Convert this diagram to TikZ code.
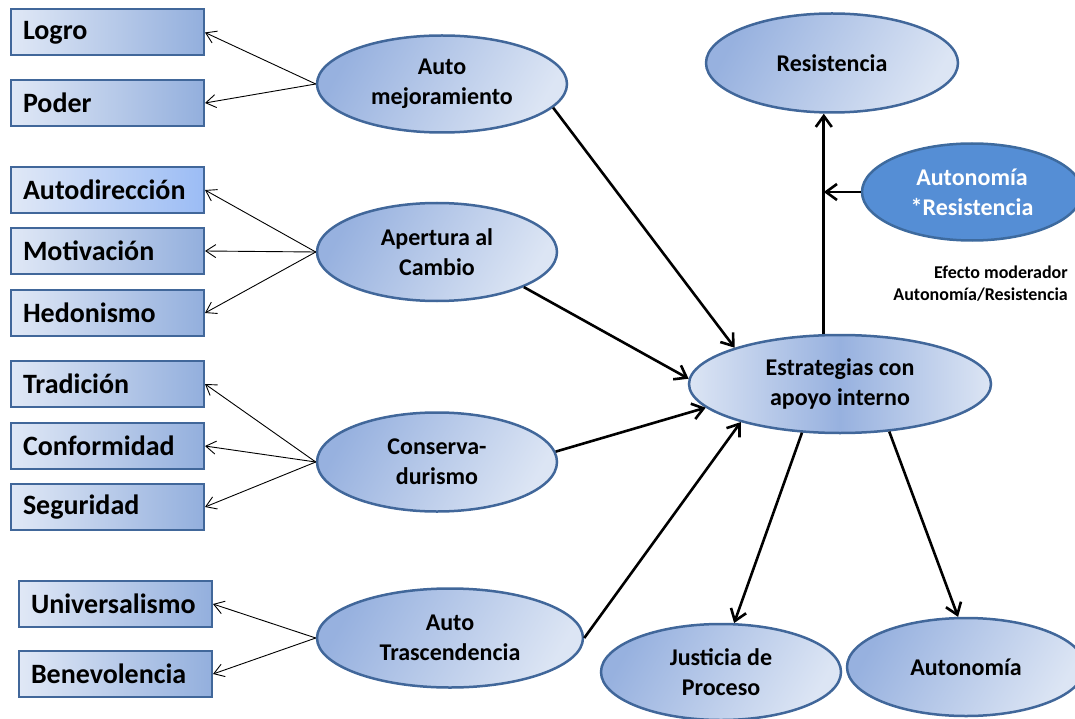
\documentclass[tikz,border=0pt]{standalone}
\usepackage{fontspec}
\setmainfont{Carlito}
\usetikzlibrary{arrows.meta,shapes.geometric}
\definecolor{bord}{HTML}{41679A}
\definecolor{elD}{HTML}{97B1DF}
\definecolor{elL}{HTML}{DCE5F4}
\definecolor{bxL}{HTML}{E0E8F6}
\definecolor{bxR}{HTML}{93AFDD}
\definecolor{bxRb}{HTML}{9BBCF5}
\definecolor{modF}{HTML}{558ED5}
\definecolor{modB}{HTML}{3D6A9E}
\begin{document}
\begin{tikzpicture}[x=1pt,y=-1pt,
  valbox/.style={rectangle, draw=bord, line width=2pt, left color=bxL, right color=bxR,
    minimum width=193pt, minimum height=46pt, inner sep=0pt, text width=169pt, align=left,
    font=\fontsize{28}{34}\selectfont\bfseries, anchor=west},
  latent/.style={ellipse, draw=bord, line width=2.5pt, left color=elD, right color=elL,
    shading angle=60, inner sep=0pt, align=center,
    font=\fontsize{24}{30}\selectfont\bfseries},
  thinarr/.style={line width=0.9pt, -{Straight Barb[length=10pt,width=13pt,line width=0.9pt]}},
  thickarr/.style={line width=2.6pt, -{Straight Barb[length=11pt,width=16pt]}}
]
\clip (0,0) rectangle (1075,719);

% value boxes
\node[valbox] (logro) at (10,32.5) {Logro};
\node[valbox] (poder) at (10,103) {Poder};
\node[valbox, right color=bxRb] (autod) at (10,190) {Autodirección};
\node[valbox] (motiv) at (10,251) {Motivación};
\node[valbox] (hedon) at (10,313) {Hedonismo};
\node[valbox] (trad) at (10,384) {Tradición};
\node[valbox] (conf) at (10,446) {Conformidad};
\node[valbox] (segu) at (10,507) {Seguridad};
\node[valbox] (univ) at (18,604) {Universalismo};
\node[valbox] (bene) at (18,674) {Benevolencia};

% latent ellipses
\node[latent, minimum width=250pt, minimum height=97pt] (am) at (442,84) {Auto\\mejoramiento};
\node[latent, minimum width=240pt, minimum height=98pt] (ap) at (437,252) {Apertura al\\Cambio};
\node[latent, minimum width=240pt, minimum height=99pt] (cv) at (437,462) {Conserva-\\durismo};
\node[latent, minimum width=266pt, minimum height=99pt] (at) at (450,638) {Auto\\Trascendencia};
\node[latent, minimum width=302pt, minimum height=98pt, left color=elL, right color=elL, middle color=elD, shading angle=90] (es) at (840,384) {Estrategias con\\apoyo interno};
\node[latent, minimum width=252pt, minimum height=99pt] (res) at (832,63) {Resistencia};
\node[ellipse, draw=modB, line width=2.5pt, fill=modF, text=white, inner sep=0pt, align=center,
  font=\fontsize{24}{30}\selectfont\bfseries, minimum width=220pt, minimum height=97pt] (mod) at (972,192) {Autonomía\\*Resistencia};
\node[latent, minimum width=240pt, minimum height=96pt] (jp) at (721,672) {Justicia de\\Proceso};
\node[latent, minimum width=238pt, minimum height=98pt] (au) at (966,667) {Autonomía};

\node[align=right, anchor=east, inner sep=0pt, font=\fontsize{18}{22}\selectfont\bfseries] (efm) at (1068,284) {Efecto moderador\\Autonomía/Resistencia};

% thin arrows (indicators)
\draw[thinarr] (am.west) -- (logro.east);
\draw[thinarr] (am.west) -- (poder.east);
\draw[thinarr] (ap.west) -- (autod.east);
\draw[thinarr] (ap.west) -- (motiv.east);
\draw[thinarr] (ap.west) -- (hedon.east);
\draw[thinarr] (cv.west) -- (trad.east);
\draw[thinarr] (cv.west) -- (conf.east);
\draw[thinarr] (cv.west) -- (segu.east);
\draw[thinarr] (at.west) -- (univ.east);
\draw[thinarr] (at.west) -- (bene.east);

% structural paths
\draw[thickarr] (am.-12) -- (es.161);
\draw[thickarr] (ap.-22) -- (es.178);
\draw[thickarr] (cv.5) -- (es.190);
\draw[thickarr] (at.east) -- (es.201);
\draw[thickarr] (es.108) -- (es.108 |- res.south);
\coordinate (mj) at (es.108 |- mod.west);
\draw[thickarr] (mod.west) -- (mj);
\draw[thickarr] (es.232) -- (jp.75);
\draw[thickarr] (es.-44) -- (au.99);
\end{tikzpicture}
\end{document}
